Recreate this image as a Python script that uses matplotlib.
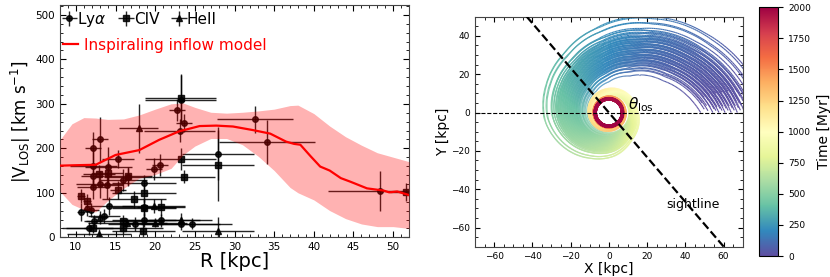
import numpy as np
import matplotlib
matplotlib.use('Agg')
import matplotlib.pyplot as plt
from matplotlib.collections import LineCollection
from matplotlib.ticker import MultipleLocator

# ---- left panel: measured |V_LOS| vs R ----
lya_r = [10.6, 11.45, 11.9, 11.7, 12.2, 12.2, 12.1, 12.2, 13.0, 13.0, 13.5, 13.9, 14.1, 14.2, 15.3, 16.0,
         16.6, 18.6, 18.6, 18.6, 19.8, 20.6, 20.7, 22.7, 23.2, 23.6, 23.1, 23.2, 24.7, 27.9, 32.6, 34.1,
         48.3, 17.5, 12.3]
lya_v = [56, 64, 61, 20, 201, 160, 138, 112, 220, 119, 48, 117, 159, 70, 176, 128,
         136, 121, 69, 39, 154, 162, 38, 286, 309, 256, 240, 31, 31, 188, 265, 214,
         104, 30, 36]
lya_xerr = [0.5, 0.5, 1, 3, 1, 3, 1.5, 2, 1, 3, 2, 2, 3, 3, 2, 3,
            3, 4, 4, 4, 1, 1, 5, 1, 4.5, 1, 4.5, 5, 5, 4.5, 4.8, 6,
            6.5, 3.5, 1]
lya_yerr = [20, 15, 15, 15, 35, 40, 30, 25, 50, 30, 15, 30, 45, 20, 20, 25,
            20, 20, 20, 15, 25, 25, 15, 25, 55, 20, 25, 15, 12, 60, 30, 50,
            45, 15, 15]

civ_r = [10.6, 11.45, 12.2, 12.9, 14.0, 15.3, 16.6, 17.3, 18.6, 18.6, 16.0, 16.0, 20.7, 18.5, 23.2, 23.2,
         23.6, 27.9, 51.6]
civ_v = [93, 82, 20, 142, 144, 106, 137, 85, 99, 65, 36, 22, 67, 14, 312, 176,
         136, 162, 102]
civ_xerr = [0.5, 0.5, 4, 2, 2, 1, 3, 4, 4, 4, 5, 5, 3, 4, 4.5, 4.5,
            4, 4.5, 2]
civ_yerr = [15, 15, 10, 20, 25, 20, 20, 20, 20, 20, 15, 15, 20, 15, 55, 25,
            15, 80, 20]

heii_r = [13.0, 12.9, 17.9, 19.8, 23.2, 27.9, 16.5, 20.0]
heii_v = [45, 8, 245, 70, 40, 15, 33, 33]
heii_xerr = [1, 4, 2.5, 4, 4, 4.5, 5, 4]
heii_yerr = [15, 10, 55, 15, 15, 30, 10, 10]

model_r = [8, 10, 12.5, 15, 18, 20.5, 23, 25.6, 27.7, 29.8, 32.3, 34.5, 36.5, 37.5, 38.3, 39.6,
           40.8, 42, 43.4, 44.6, 46.7, 48.8, 49.5, 50.5, 52]
model_v = [161, 162, 163, 185, 196, 219, 238, 250, 251, 249, 241, 233, 215, 210, 208, 182,
           159, 150, 133, 125, 110, 105, 101, 103, 95]

band_r = [8, 9.5, 11, 12.5, 14, 16, 18, 20, 22, 23.5, 25, 27, 29, 31, 33, 35, 37, 38, 40, 42, 44, 46, 48, 50, 52]
band_hi = [219, 255, 269, 268, 265, 266, 275, 288, 300, 302, 292, 281, 279, 281, 284, 288, 296, 297,
           278, 250, 226, 207, 190, 180, 170]
band_lo = [103, 74, 62, 57, 82, 110, 133, 141, 155, 185, 205, 222, 222, 208, 182, 150, 112, 100,
           84, 60, 42, 30, 24, 24, 20]

# ---- right panel: orbit tracks (radius/time read at fixed angles) ----
turn_ang = [0, 30, 60, 90, 120, 150, 180, 210, 240, 270, 300, 330, 360]
inner_r = [48, 33, 22, 16, 13, 12, 11.5, 11, 10.5, 10.5, 10.5, 10.5, 10.5]
outer_r = [80, 66, 54, 45, 39, 36, 34, 30, 26, 23, 19, 17, 15]
inner_t = [0, 50, 110, 180, 250, 320, 390, 450, 510, 570, 640, 710, 800]
outer_t = [0, 90, 170, 250, 340, 430, 520, 600, 680, 750, 820, 880, 950]
tail_ang = [360, 450, 540, 630, 720, 900, 1080, 1440, 1800, 2520]
tail_decay = [1, 0.65, 0.42, 0.28, 0.18, 0.08, 0.03, 0, 0, 0]
tail_frac = [0, 0.12, 0.23, 0.33, 0.42, 0.56, 0.67, 0.82, 0.92, 1.0]
orbit_w = [0.0, 0.03, 0.06, 0.08, 0.1, 0.12, 0.14, 0.16, 0.17, 0.18, 0.2, 0.21, 0.22, 0.23, 0.24,
           0.25, 0.26, 0.27, 0.28, 0.29, 0.3, 0.31, 0.32, 0.33, 0.34, 0.35, 0.36, 0.37, 0.38, 0.39,
           0.4, 0.41, 0.42, 0.43, 0.44, 0.45, 0.46, 0.47, 0.48, 0.49, 0.5, 0.51, 0.52, 0.53, 0.54,
           0.55, 0.56, 0.57, 0.58, 0.59, 0.6, 0.61, 0.62, 0.63, 0.64, 0.65, 0.66, 0.67, 0.68, 0.7,
           0.72, 0.74, 0.76, 0.78, 0.8, 0.82, 0.9, 0.93, 0.97, 1.0]
orbit_phase = [0, 6, 2, 9, 4, 1, 7, 3, 10, 5]

fig = plt.figure(figsize=(8.3, 2.77), dpi=100)

# ================= left =================
ax = fig.add_axes([0.0723, 0.1433, 0.4205, 0.8386])
ekw = dict(ls='none', color='k', ecolor='k', elinewidth=1.0, ms=4, alpha=0.85, zorder=2)
e1 = ax.errorbar(lya_r, lya_v, xerr=lya_xerr, yerr=lya_yerr, fmt='o', **ekw)
e2 = ax.errorbar(civ_r, civ_v, xerr=civ_xerr, yerr=civ_yerr, fmt='s', **ekw)
e3 = ax.errorbar(heii_r, heii_v, xerr=heii_xerr, yerr=heii_yerr, fmt='^', **ekw)
ax.fill_between(band_r, band_lo, band_hi, color='red', alpha=0.3, lw=0, zorder=3)
ln, = ax.plot(model_r, model_v, color='red', lw=1.6, zorder=4)

ax.set_xlim(8, 52)
ax.set_ylim(0, 522)
ax.xaxis.set_major_locator(MultipleLocator(5))
ax.xaxis.set_minor_locator(MultipleLocator(1))
ax.yaxis.set_major_locator(MultipleLocator(100))
ax.yaxis.set_minor_locator(MultipleLocator(20))
ax.tick_params(which='both', direction='in', top=True, right=True, labelsize=7.5)
ax.tick_params(which='major', length=4)
ax.tick_params(which='minor', length=2)
for s in ax.spines.values():
    s.set_color('#444444')
ax.set_xlabel('R [kpc]', fontsize=14, labelpad=0)
ax.set_ylabel(r'$|\mathrm{V_{LOS}}|$ [km s$^{-1}$]', fontsize=12, labelpad=2)

leg1 = ax.legend([e1, e2, e3], [r'Ly$\alpha$', 'CIV', 'HeII'], loc='upper left', ncol=3,
                 frameon=False, fontsize=11, handlelength=0.6, handletextpad=0.2,
                 columnspacing=1.0, borderaxespad=0.1, borderpad=0.2)
ax.add_artist(leg1)
ax.legend([ln], ['Inspiraling inflow model'], loc='upper left', bbox_to_anchor=(-0.01, 0.885),
          frameon=False, fontsize=11, labelcolor='red', handlelength=1.0, handletextpad=0.4,
          borderaxespad=0.0)

# ================= right =================
ax2 = fig.add_axes([0.5723, 0.1094, 0.3225, 0.8303])
theta = np.arange(0, 2521, 1.0)
segs, times = [], []
for i, w in enumerate(orbit_w):
    r_turn = np.array(inner_r) + w * (np.array(outer_r) - np.array(inner_r))
    t_turn = np.array(inner_t) + w * (np.array(outer_t) - np.array(inner_t))
    r_end = 6.5 + 1.2 * w
    r_tail = r_end + (r_turn[-1] - r_end) * np.array(tail_decay)
    t_tail = t_turn[-1] + (2000 - t_turn[-1]) * np.array(tail_frac)
    ang = np.concatenate([turn_ang, tail_ang[1:]])
    rr = np.concatenate([r_turn, r_tail[1:]])
    tt = np.concatenate([t_turn, t_tail[1:]])
    r = np.interp(theta, ang, rr)
    t = np.interp(theta, ang, tt)
    phi = np.radians(theta + orbit_phase[i % len(orbit_phase)])
    pts = np.column_stack([r * np.cos(phi), r * np.sin(phi)])
    segs.append(np.stack([pts[:-1], pts[1:]], axis=1))
    times.append(0.5 * (t[:-1] + t[1:]))
segs = np.concatenate(segs)
times = np.concatenate(times)
order = np.argsort(times)
lc = LineCollection(segs[order], cmap='Spectral_r', norm=plt.Normalize(0, 2000), lw=0.8, zorder=2)
lc.set_array(times[order])
ax2.add_collection(lc)

ax2.axhline(0, color='k', ls='--', lw=0.8, zorder=3)
ax2.axline((0, 0), slope=-1.165, color='k', ls='--', lw=1.6, zorder=3)
ax2.text(10, 1.5, r'$\theta_{\rm los}$', fontsize=11)
ax2.text(30, -50, 'sightline', fontsize=9)

ax2.set_xlim(-70, 70)
ax2.set_ylim(-70, 50)
ax2.xaxis.set_major_locator(MultipleLocator(20))
ax2.xaxis.set_minor_locator(MultipleLocator(5))
ax2.yaxis.set_major_locator(MultipleLocator(20))
ax2.yaxis.set_minor_locator(MultipleLocator(5))
ax2.tick_params(which='both', direction='in', top=True, right=True, labelsize=6.5)
ax2.tick_params(which='major', length=3.5)
ax2.tick_params(which='minor', length=2)
for s in ax2.spines.values():
    s.set_color('#444444')
ax2.set_xlabel('X [kpc]', fontsize=10, labelpad=1)
ax2.set_ylabel('Y [kpc]', fontsize=10, labelpad=1)

cax = fig.add_axes([0.9148, 0.0758, 0.0229, 0.8978])
cb = fig.colorbar(lc, cax=cax)
cb.set_ticks(np.arange(0, 2001, 250))
cb.ax.tick_params(labelsize=6.5)
cb.set_label('Time [Myr]', fontsize=10)

fig.savefig('out.png', dpi=100)
